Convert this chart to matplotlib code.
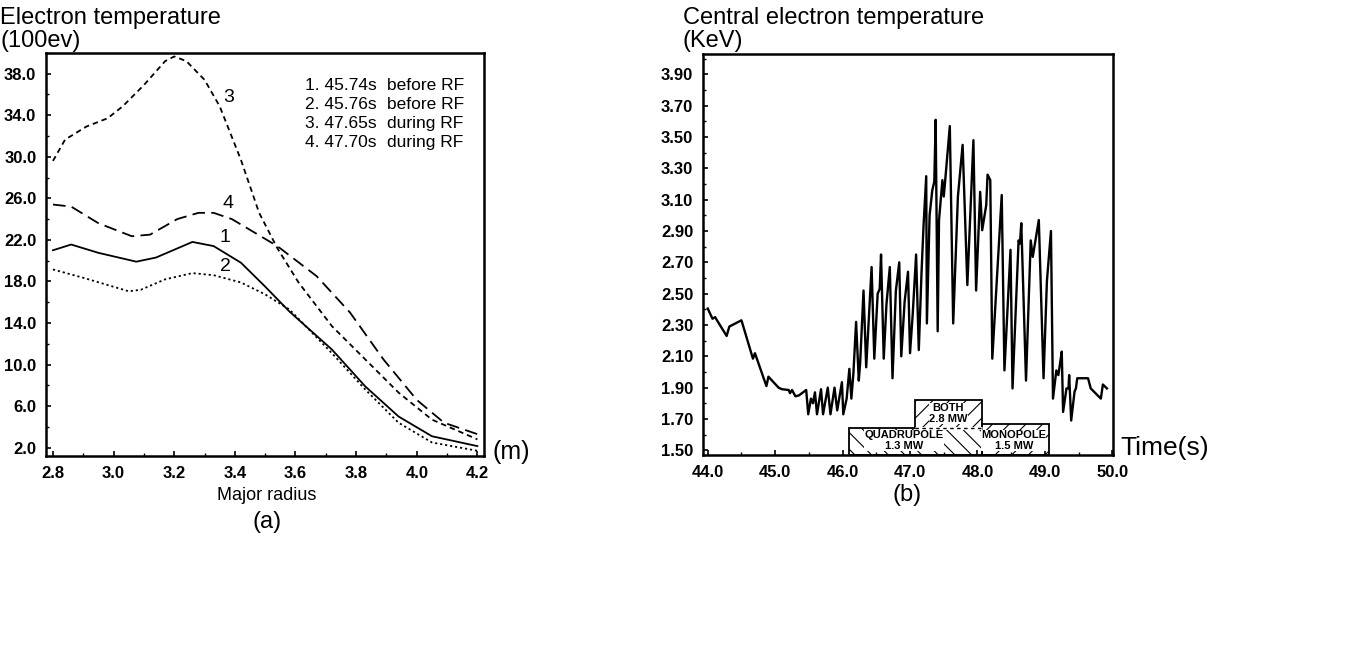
import matplotlib.pyplot as plt
from matplotlib.ticker import MultipleLocator, FormatStrFormatter

plt.rcParams['font.family'] = ['Liberation Sans', 'DejaVu Sans']
plt.rcParams['hatch.linewidth'] = 0.8

# ---- panel (a): electron temperature profiles (100 eV) vs major radius (m)
r1 = [2.80, 2.86, 2.95, 3.075, 3.14, 3.26, 3.33, 3.42, 3.50, 3.58, 3.72, 3.83, 3.94, 4.05, 4.20]
te1 = [21.0, 21.55, 20.75, 19.9, 20.3, 21.8, 21.4, 19.8, 17.5, 15.1, 11.45, 7.9, 5.0, 3.1, 2.15]

r2 = [2.80, 2.90, 3.05, 3.09, 3.17, 3.26, 3.33, 3.42, 3.50, 3.58, 3.72, 3.83, 3.94, 4.05, 4.20]
te2 = [19.15, 18.35, 17.05, 17.2, 18.2, 18.8, 18.6, 17.9, 16.75, 15.3, 11.1, 7.6, 4.4, 2.5, 1.7]

r3 = [2.80, 2.84, 2.91, 2.98, 3.03, 3.10, 3.17, 3.20, 3.24, 3.30, 3.35, 3.42, 3.48, 3.54,
      3.61, 3.72, 3.83, 3.94, 4.05, 4.20]
te3 = [29.6, 31.65, 32.9, 33.7, 34.85, 36.9, 39.2, 39.65, 39.2, 37.4, 34.85, 29.7, 24.6, 21.2,
       17.9, 13.7, 10.5, 7.3, 4.7, 2.8]

r4 = [2.80, 2.86, 2.95, 3.06, 3.12, 3.21, 3.28, 3.33, 3.39, 3.54, 3.67, 3.78, 3.89, 4.00, 4.09, 4.20]
te4 = [25.4, 25.2, 23.6, 22.35, 22.5, 24.0, 24.6, 24.6, 24.0, 21.4, 18.5, 15.0, 10.5, 6.6, 4.4, 3.3]

curve_tags = ['1', '2', '3', '4']
tag_x = [3.35, 3.35, 3.36, 3.36]
tag_y = [22.2, 19.4, 35.7, 25.5]
curve_times = ['45.74s', '45.76s', '47.65s', '47.70s']
curve_phase = ['before RF', 'before RF', 'during RF', 'during RF']

# ---- panel (b): central electron temperature (keV) vs time (s)
t = [44.00, 44.07, 44.11, 44.13, 44.28, 44.32, 44.50, 44.67, 44.70, 44.87, 44.90, 45.05, 45.10,
     45.20, 45.22, 45.25, 45.30, 45.35, 45.46, 45.49, 45.53, 45.56, 45.59, 45.62, 45.68, 45.71,
     45.78, 45.82, 45.88, 45.92, 45.99, 46.01, 46.06, 46.10, 46.13, 46.16, 46.20, 46.24, 46.26,
     46.31, 46.35, 46.39, 46.43, 46.47, 46.52, 46.55, 46.57, 46.61, 46.65, 46.70, 46.74, 46.79,
     46.84, 46.87, 46.92, 46.97, 47.00, 47.04, 47.09, 47.13, 47.17, 47.20, 47.24, 47.25, 47.29,
     47.33, 47.36, 47.38, 47.41, 47.43, 47.48, 47.50, 47.52, 47.59, 47.64, 47.71, 47.78, 47.85,
     47.94, 47.98, 48.04, 48.07, 48.13, 48.15, 48.19, 48.22, 48.36, 48.40, 48.49, 48.52, 48.61,
     48.63, 48.65, 48.72, 48.79, 48.82, 48.91, 48.98, 49.03, 49.09, 49.12, 49.17, 49.20, 49.22,
     49.25, 49.27, 49.32, 49.35, 49.36, 49.39, 49.44, 49.46, 49.48, 49.64, 49.68, 49.83, 49.86,
     49.92]
te0 = [2.405, 2.34, 2.35, 2.335, 2.23, 2.29, 2.33, 2.085, 2.12, 1.91, 1.97, 1.90, 1.89,
       1.885, 1.865, 1.885, 1.845, 1.85, 1.885, 1.73, 1.83, 1.80, 1.87, 1.73, 1.89, 1.73,
       1.90, 1.73, 1.90, 1.755, 1.935, 1.73, 1.83, 2.02, 1.83, 1.99, 2.32, 1.945, 2.055,
       2.52, 2.03, 2.35, 2.67, 2.085, 2.50, 2.53, 2.75, 2.085, 2.43, 2.67, 1.96, 2.52,
       2.70, 2.10, 2.45, 2.64, 2.12, 2.37, 2.75, 2.14, 2.63, 2.93, 3.25, 2.31, 3.00,
       3.16, 3.215, 3.61, 2.26, 2.97, 3.225, 3.12, 3.215, 3.57, 2.31, 3.12, 3.45, 2.555,
       3.48, 2.52, 3.15, 2.905, 3.065, 3.26, 3.225, 2.085, 3.13, 2.01, 2.78, 1.895, 2.84,
       2.82, 2.95, 1.945, 2.84, 2.735, 2.97, 1.96, 2.58, 2.90, 1.83, 2.01, 1.98, 2.04,
       2.13, 1.745, 1.895, 1.895, 1.98, 1.69, 1.875, 1.895, 1.96, 1.96, 1.895, 1.83, 1.92,
       1.895]

# RF power blocks
rf_names = ['QUADRUPOLE\n1.3 MW', 'BOTH\n2.8 MW', 'MONOPOLE\n1.5 MW']
rf_start = [46.09, 47.08, 48.07]
rf_end = [48.07, 48.07, 49.06]
rf_low = [1.47, 1.64, 1.47]
rf_high = [1.64, 1.823, 1.665]
rf_hatch = ['\\\\', '//', '//']
rf_text_x = [46.91, 47.57, 48.54]
rf_text_y = [1.562, 1.735, 1.562]

fig = plt.figure(figsize=(13.45, 6.62), dpi=100)
ax1 = fig.add_axes([0.0342, 0.3112, 0.3257, 0.609])
ax2 = fig.add_axes([0.5227, 0.3127, 0.3048, 0.6057])

lw = 1.3
ax1.plot(r1, te1, color='black', lw=lw)
ax1.plot(r2, te2, color='black', lw=lw, linestyle=(0, (1.2, 1.6)))
ax1.plot(r3, te3, color='black', lw=lw, linestyle=(0, (3.0, 2.2)))
ax1.plot(r4, te4, color='black', lw=lw, linestyle=(0, (7.0, 3.5)))
for tag, x, y in zip(curve_tags, tag_x, tag_y):
    ax1.text(x, y, tag, fontsize=14, ha='left', va='center')
for i, (tm, ph) in enumerate(zip(curve_times, curve_phase)):
    yy = 0.918 - i * 0.0464
    ax1.text(0.591, yy, f'{i + 1}. {tm}', transform=ax1.transAxes, fontsize=12.5, va='center')
    ax1.text(0.778, yy, ph, transform=ax1.transAxes, fontsize=12.5, va='center')

ax1.set_xlim(2.777, 4.222)
ax1.set_ylim(1.2, 40.0)
ax1.xaxis.set_major_locator(MultipleLocator(0.2))
ax1.xaxis.set_minor_locator(MultipleLocator(0.1))
ax1.set_yticks([2.0 + 4.0 * k for k in range(10)])
ax1.yaxis.set_minor_locator(MultipleLocator(2.0))
ax1.xaxis.set_major_formatter(FormatStrFormatter('%.1f'))
ax1.yaxis.set_major_formatter(FormatStrFormatter('%.1f'))

# panel (b)
for name, x0, x1, y0, y1, h in zip(rf_names, rf_start, rf_end, rf_low, rf_high, rf_hatch):
    ax2.bar(x0, y1 - y0, width=x1 - x0, bottom=y0, align='edge', fill=False,
            hatch=h, edgecolor='black', linewidth=1.3, zorder=2)
ax2.hlines(rf_high[0], rf_start[1], rf_end[1], color='white', lw=2.2, zorder=3)
ax2.hlines(rf_high[0], rf_start[1], rf_end[1], color='black', lw=1.0,
           linestyles=(0, (2.5, 2.5)), zorder=4)
for name, x, y in zip(rf_names, rf_text_x, rf_text_y):
    ax2.text(x, y, name, fontsize=8, fontweight='bold', ha='center', va='center',
             linespacing=1.05, zorder=5,
             bbox=dict(facecolor='white', edgecolor='none', pad=0.05))
ax2.plot(t, te0, color='black', lw=1.7, zorder=6)

ax2.set_xlim(43.93, 50.01)
ax2.set_ylim(1.47, 4.03)
ax2.xaxis.set_major_locator(MultipleLocator(1.0))
ax2.xaxis.set_minor_locator(MultipleLocator(0.5))
ax2.set_yticks([1.5 + 0.2 * k for k in range(13)])
ax2.yaxis.set_minor_locator(MultipleLocator(0.1))
ax2.xaxis.set_major_formatter(FormatStrFormatter('%.1f'))
ax2.yaxis.set_major_formatter(FormatStrFormatter('%.2f'))

for ax in (ax1, ax2):
    for s in ax.spines.values():
        s.set_linewidth(1.8)
    ax.tick_params(which='both', direction='in', top=False, right=False)
    ax.tick_params(which='major', length=3.5, width=1.2, pad=7, labelsize=12)
    ax.tick_params(which='minor', length=2.5, width=1.0)
    for lab in ax.get_xticklabels() + ax.get_yticklabels():
        lab.set_fontweight('bold')

# figure texts
fig.text(0.0, 0.990, 'Electron temperature', fontsize=17, va='top', ha='left')
fig.text(0.0, 0.955, '(100ev)', fontsize=17, va='top', ha='left')
fig.text(0.5078, 0.990, 'Central electron temperature', fontsize=17, va='top', ha='left')
fig.text(0.5078, 0.955, '(KeV)', fontsize=17, va='top', ha='left')
fig.text(0.1985, 0.251, 'Major radius', fontsize=13, ha='center', va='center')
fig.text(0.1985, 0.211, '(a)', fontsize=17, ha='center', va='center')
fig.text(0.3665, 0.317, '(m)', fontsize=18, ha='left', va='center')
fig.text(0.8327, 0.323, 'Time(s)', fontsize=19, ha='left', va='center')
fig.text(0.6743, 0.253, '(b)', fontsize=17, ha='center', va='center')

fig.savefig('out.png', dpi=100, facecolor='white')
